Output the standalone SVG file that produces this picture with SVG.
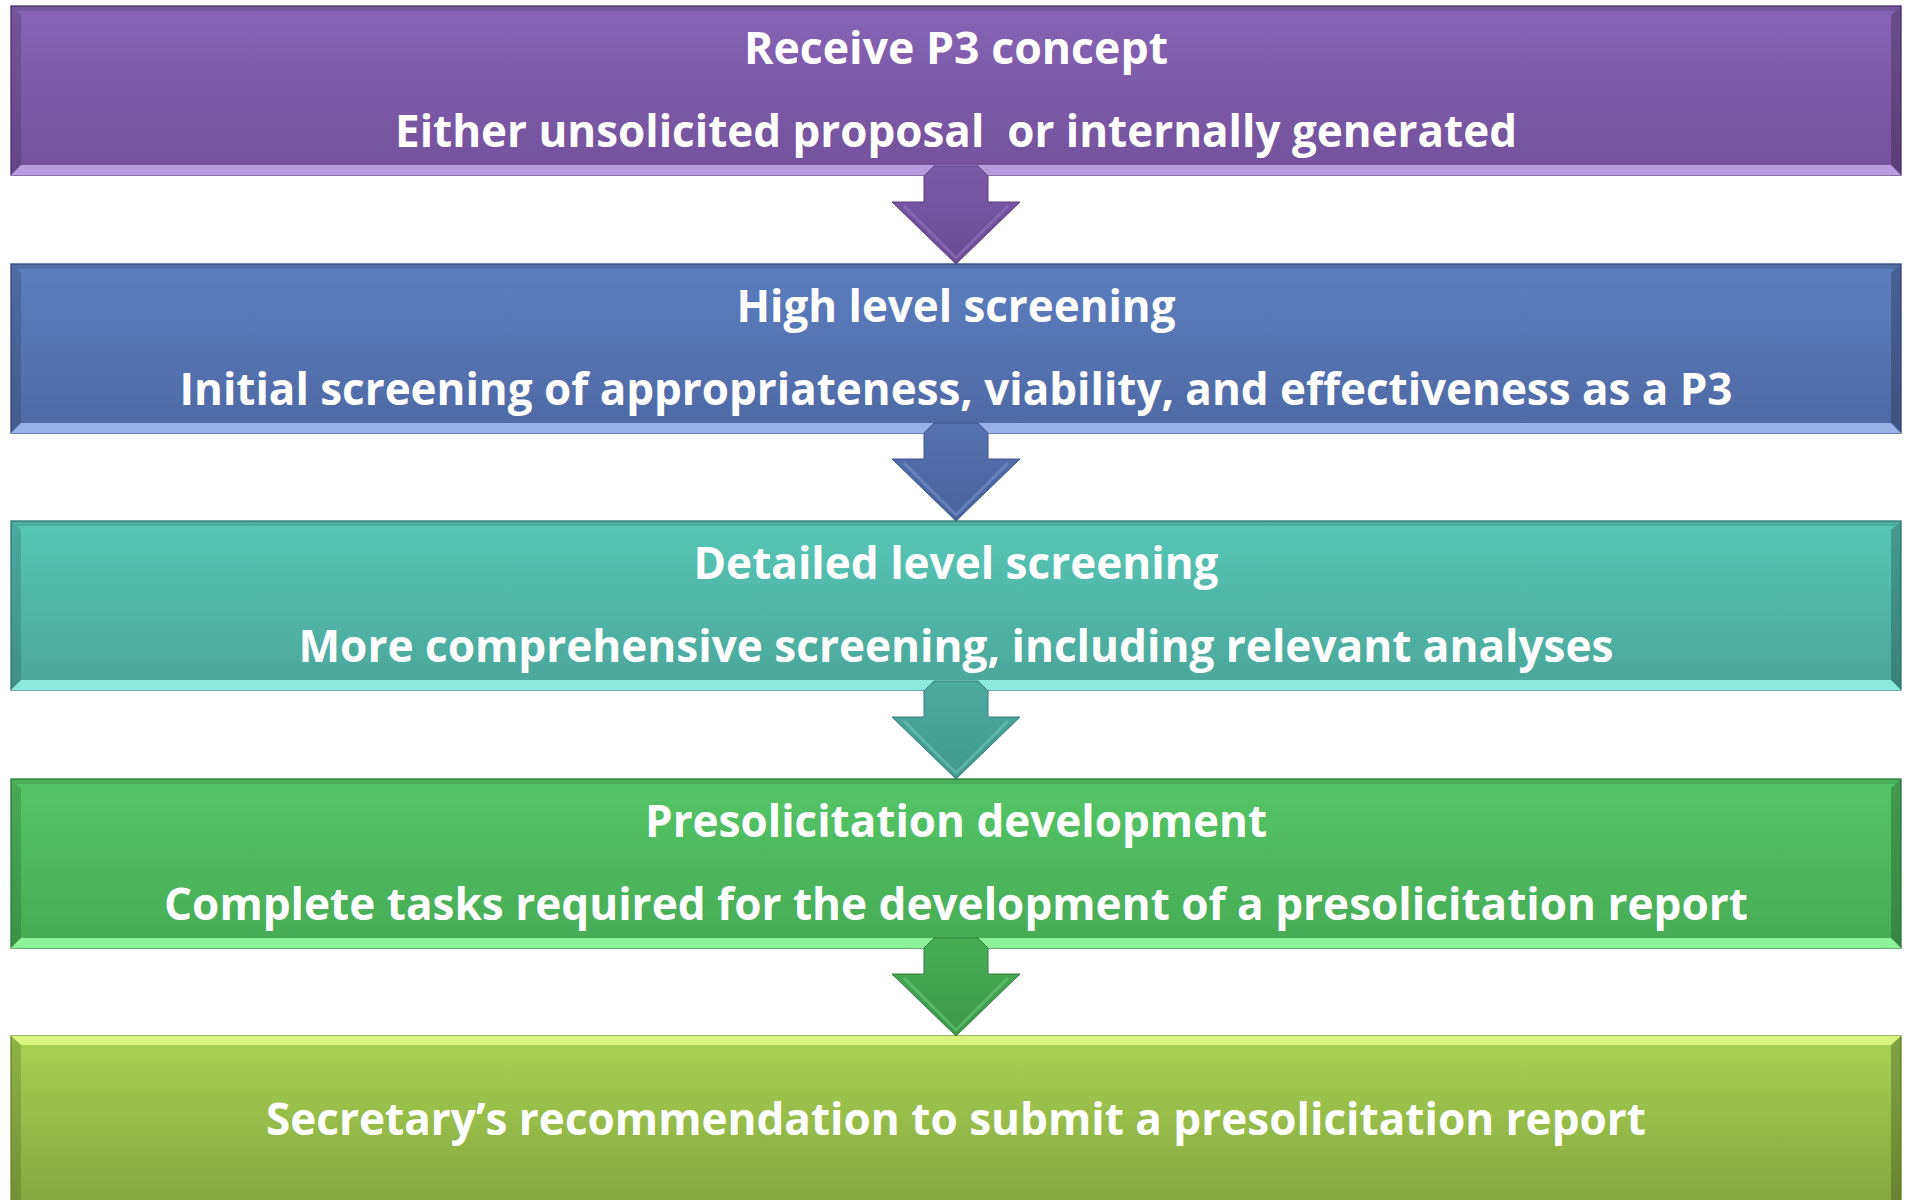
<svg xmlns="http://www.w3.org/2000/svg" width="1907" height="1200" viewBox="0 0 1907 1200">
  <style>
    .lbl { font-family: "Open Sans", "Noto Sans", "DejaVu Sans", sans-serif; font-weight: 700; font-size: 44px; fill: #ffffff; }
    .edgeL { fill: #000000; fill-opacity: 0.14; }
    .edgeR { fill: #000000; fill-opacity: 0.22; }
    .edgeT { fill: #000000; fill-opacity: 0.12; }
  </style>
  <defs>
    <linearGradient id="gPurple" x1="0" y1="0" x2="0" y2="1">
      <stop offset="0" stop-color="#8663b5"/>
      <stop offset="1" stop-color="#73519b"/>
    </linearGradient>
    <linearGradient id="gBlue" x1="0" y1="0" x2="0" y2="1">
      <stop offset="0" stop-color="#5c7ebf"/>
      <stop offset="1" stop-color="#4e69a4"/>
    </linearGradient>
    <linearGradient id="gTeal" x1="0" y1="0" x2="0" y2="1">
      <stop offset="0" stop-color="#56c7b6"/>
      <stop offset="1" stop-color="#4ba699"/>
    </linearGradient>
    <linearGradient id="gGreen" x1="0" y1="0" x2="0" y2="1">
      <stop offset="0" stop-color="#54c667"/>
      <stop offset="1" stop-color="#47aa56"/>
    </linearGradient>
    <linearGradient id="gLime" x1="0" y1="0" x2="0" y2="1">
      <stop offset="0" stop-color="#a8d254"/>
      <stop offset="1" stop-color="#86a63e"/>
    </linearGradient>
    <linearGradient id="aPurple" x1="0" y1="0" x2="0" y2="1">
      <stop offset="0" stop-color="#7a59a8"/>
      <stop offset="1" stop-color="#6a4a94"/>
    </linearGradient>
    <linearGradient id="aBlue" x1="0" y1="0" x2="0" y2="1">
      <stop offset="0" stop-color="#5672b0"/>
      <stop offset="1" stop-color="#48629c"/>
    </linearGradient>
    <linearGradient id="aTeal" x1="0" y1="0" x2="0" y2="1">
      <stop offset="0" stop-color="#4cab9f"/>
      <stop offset="1" stop-color="#42978c"/>
    </linearGradient>
    <linearGradient id="aGreen" x1="0" y1="0" x2="0" y2="1">
      <stop offset="0" stop-color="#48ad56"/>
      <stop offset="1" stop-color="#3d984a"/>
    </linearGradient>
    <!-- beveled box shape, 1890 x 169 -->
    <g id="bevelSides">
      <polygon class="edgeT" points="0,0 1890,0 1884,5 6,5"/>
      <polygon class="edgeL" points="0,0 10,9 10,159 0,169"/>
      <polygon class="edgeR" points="1890,0 1880,9 1880,159 1890,169"/>
    </g>
    <!-- down arrow, tip at origin -->
    <path id="arrowShape" d="M -22,-98 L 22,-98 L 32,-88 L 32,-62 L 64,-62 L 0,0 L -64,-62 L -32,-62 L -32,-88 Z"/>
  </defs>

  <!-- process steps -->
  <g id="step1" transform="translate(11,6)">
    <rect x="0" y="0" width="1890" height="169" fill="url(#gPurple)" stroke="#5e4284" stroke-width="1.5"/>
    <use href="#bevelSides"/>
    <polygon points="0,169 10,159 1880,159 1890,169" fill="#b99be0"/>
    <text class="lbl" x="945" y="58" text-anchor="middle" textLength="424" lengthAdjust="spacingAndGlyphs">Receive P3 concept</text>
    <text class="lbl" x="945" y="141" text-anchor="middle" textLength="1122" lengthAdjust="spacingAndGlyphs" xml:space="preserve">Either unsolicited proposal  or internally generated</text>
  </g>

  <g id="step2" transform="translate(11,264)">
    <rect x="0" y="0" width="1890" height="169" fill="url(#gBlue)" stroke="#435a8e" stroke-width="1.5"/>
    <use href="#bevelSides"/>
    <polygon points="0,169 10,159 1880,159 1890,169" fill="#98b2e8"/>
    <text class="lbl" x="945" y="58" text-anchor="middle" textLength="439" lengthAdjust="spacingAndGlyphs">High level screening</text>
    <text class="lbl" x="945" y="141" text-anchor="middle" textLength="1553" lengthAdjust="spacingAndGlyphs">Initial screening of appropriateness, viability, and effectiveness as a P3</text>
  </g>

  <g id="step3" transform="translate(11,521)">
    <rect x="0" y="0" width="1890" height="169" fill="url(#gTeal)" stroke="#3f8f85" stroke-width="1.5"/>
    <use href="#bevelSides"/>
    <polygon points="0,169 10,159 1880,159 1890,169" fill="#8ceadd"/>
    <text class="lbl" x="945" y="58" text-anchor="middle" textLength="525" lengthAdjust="spacingAndGlyphs">Detailed level screening</text>
    <text class="lbl" x="945" y="141" text-anchor="middle" textLength="1315" lengthAdjust="spacingAndGlyphs">More comprehensive screening, including relevant analyses</text>
  </g>

  <g id="step4" transform="translate(11,779)">
    <rect x="0" y="0" width="1890" height="169" fill="url(#gGreen)" stroke="#3c9249" stroke-width="1.5"/>
    <use href="#bevelSides"/>
    <polygon points="0,169 10,159 1880,159 1890,169" fill="#8ef29b"/>
    <text class="lbl" x="945" y="58" text-anchor="middle" textLength="622" lengthAdjust="spacingAndGlyphs">Presolicitation development</text>
    <text class="lbl" x="945" y="141" text-anchor="middle" textLength="1584" lengthAdjust="spacingAndGlyphs">Complete tasks required for the development of a presolicitation report</text>
  </g>

  <g id="step5" transform="translate(11,1036)">
    <rect x="0" y="0" width="1890" height="169" fill="url(#gLime)" stroke="#7a9a38" stroke-width="1.5"/>
    <polygon points="0,0 1890,0 1880,9 10,9" fill="#d9f37e"/>
    <polygon class="edgeL" points="0,0 10,9 10,169 0,169"/>
    <polygon class="edgeR" points="1890,0 1880,9 1880,169 1890,169"/>
    <text class="lbl" x="945" y="99" text-anchor="middle" textLength="1380" lengthAdjust="spacingAndGlyphs">Secretary’s recommendation to submit a presolicitation report</text>
  </g>

  <!-- connectors -->
  <g id="connectors">
    <g transform="translate(956,264)">
      <use href="#arrowShape" fill="url(#aPurple)" stroke="#5a3d82" stroke-width="1"/>
      <path d="M -52,-58 L 0,-6 L 52,-58" fill="none" stroke="#9a7cc8" stroke-opacity="0.5" stroke-width="3"/>
    </g>
    <g transform="translate(956,521)">
      <use href="#arrowShape" fill="url(#aBlue)" stroke="#3d5488" stroke-width="1"/>
      <path d="M -52,-58 L 0,-6 L 52,-58" fill="none" stroke="#7f9bd6" stroke-opacity="0.5" stroke-width="3"/>
    </g>
    <g transform="translate(956,779)">
      <use href="#arrowShape" fill="url(#aTeal)" stroke="#367e75" stroke-width="1"/>
      <path d="M -52,-58 L 0,-6 L 52,-58" fill="none" stroke="#76cfc2" stroke-opacity="0.5" stroke-width="3"/>
    </g>
    <g transform="translate(956,1036)">
      <use href="#arrowShape" fill="url(#aGreen)" stroke="#337f3e" stroke-width="1"/>
      <path d="M -52,-58 L 0,-6 L 52,-58" fill="none" stroke="#72cf80" stroke-opacity="0.5" stroke-width="3"/>
    </g>
  </g>
</svg>
